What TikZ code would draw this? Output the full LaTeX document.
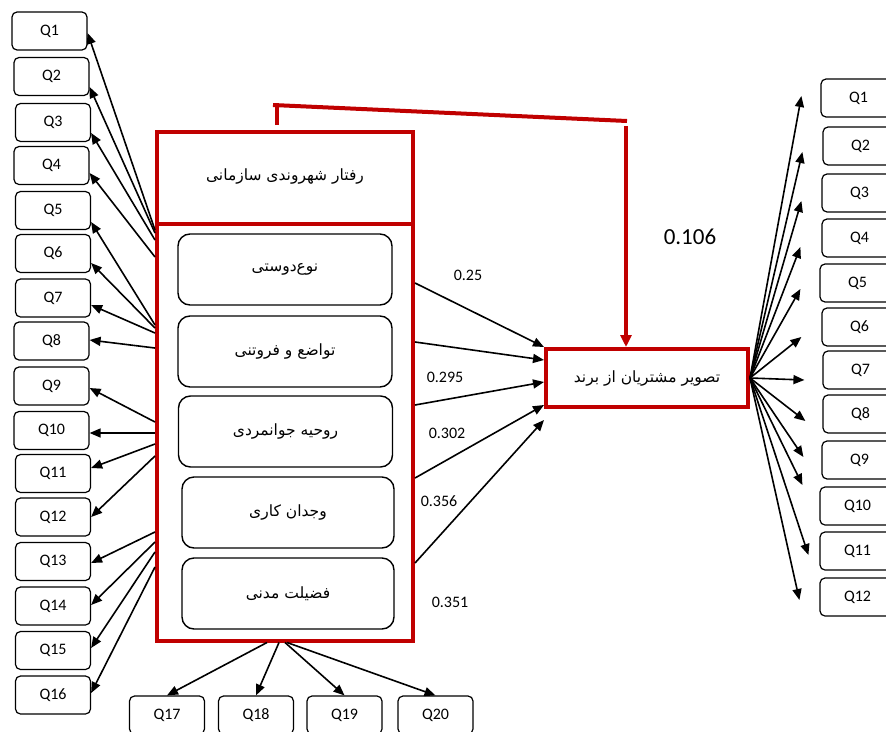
\documentclass[tikz,border=0pt]{standalone}
\usepackage{fontspec}
\setmainfont{Carlito}
\newfontfamily\farsi[Script=Arabic]{DejaVu Sans}
\TeXXeTstate=1
\usetikzlibrary{arrows.meta,positioning}
\definecolor{boxred}{HTML}{C00000}
\newcommand{\fa}[1]{{\farsi\beginR #1\endR}}

\tikzset{
 qbox/.style={draw, rounded corners=5, line width=1.2pt, minimum width=75, minimum height=38, inner sep=0pt, font=\fontsize{16}{18}\selectfont},
 subbox/.style={draw, rounded corners=12, line width=1.4pt, minimum width=214, minimum height=71, font=\fontsize{15.5}{17}\selectfont},
 redbox/.style={draw=boxred, line width=4pt},
 arr/.style={-{Triangle[length=11pt,width=9pt]}, line width=1.6pt},
 coef/.style={font=\fontsize{16}{18}\selectfont, inner sep=0pt}
}

\begin{document}
\begin{tikzpicture}[x=1pt, y=-1pt]
\useasboundingbox (0,0) rectangle (886,731);

\node[redbox, minimum width=256, minimum height=509] (ocb) at (285,386) {};
\draw[redbox] (ocb.west |- 0,224) -- (ocb.east |- 0,224);
\node[font=\fontsize{15.5}{17}\selectfont] (head) at (285,177) {\fa{رفتار شهروندی سازمانی}};

\node[subbox] (f1) at (285,269.5) {\fa{نوع‌دوستی}};
\node[subbox] (f2) at (285,351.5) {\fa{تواضع و فروتنی}};
\node[subbox] (f3) at (285.5,431.5) {\fa{روحیه جوانمردی}};
\node[subbox, minimum width=212] (f4) at (288,512.5) {\fa{وجدان کاری}};
\node[subbox, minimum width=212] (f5) at (288,593.5) {\fa{فضیلت مدنی}};

\node[redbox, minimum width=202, minimum height=58, font=\fontsize{15.5}{17}\selectfont] (img) at (647,378) {\fa{تصویر مشتریان از برند}};

% items of the left factor
\foreach \q/\x/\y in {1/49.5/31, 2/51.5/76.5, 3/53/122.5, 4/51.5/165.5, 5/53/210.5, 6/53/253.5, 7/53/298, 8/51.5/341, 9/51.5/386, 10/51.5/430.5, 11/53/473.5, 12/53/517, 13/53/561.5, 14/53/606, 15/53/650.5, 16/53/695}
\node[qbox] (L\q) at (\x,\y) {Q\q};

\foreach \q/\s/\t in {1/230/33, 2/233/87, 3/240/133, 4/257/173, 5/325/222, 6/328/263, 7/333/305, 8/348/340, 9/422/388, 10/433/433, 11/444/468, 12/456/517, 13/532/563, 14/542/605, 15/552/648, 16/567/693}
\draw[arr] (ocb.west |- 0,\s) -- (L\q.east |- 0,\t);

\foreach \q/\x in {17/167, 18/256, 19/344.5, 20/435.5}
\node[qbox] (B\q) at (\x,715) {Q\q};

\foreach \q/\s in {17/267, 18/279, 19/285, 20/287}
\draw[arr] (ocb.south -| \s,0) -- (B\q.north);

% paths to the dependent factor
\foreach \s/\t in {283/347, 342/360, 405/382, 478/405, 563/420}
\draw[arr] (ocb.east |- 0,\s) -- (img.west |- 0,\t);

\node[coef] (w1) at (468,275) {0.25};
\node[coef] (w2) at (445,377) {0.295};
\node[coef] (w3) at (447,433) {0.302};
\node[coef] (w4) at (439,501) {0.356};
\node[coef] (w5) at (450,602) {0.351};
\node[coef, font=\fontsize{23}{25}\selectfont] (w6) at (690,237) {0.106};

\draw[draw=boxred, line width=4pt] (277,125) -- (277,103);
\draw[draw=boxred, line width=4pt] (273,105) -- (627,121);
\draw[draw=boxred, line width=4pt, -{Triangle[length=12pt,width=11pt]}] (626,126) -- (img.north -| 626,0);

% items of the dependent factor
\foreach \q/\x/\y in {1/858.5/98, 2/860.5/146, 3/859.5/193, 4/859.5/238, 5/857.5/283, 6/859.5/327, 7/860.5/370, 8/860.5/414, 9/859.5/460, 10/857.5/506, 11/857.5/551, 12/857.5/597}
\node[qbox] (R\q) at (\x,\y) {Q\q};

\foreach \q/\dx/\dy in {1/-19/-2, 2/-20/6, 3/-20/8, 4/-21/9, 5/-19/6, 6/-20/10, 7/-18/10, 8/-17/7, 9/-18/-3, 10/-17/-21, 11/-11/4, 12/-20/3}
\draw[arr] (img.east) -- ([shift={(\dx,\dy)}]R\q.west);

\end{tikzpicture}
\end{document}
